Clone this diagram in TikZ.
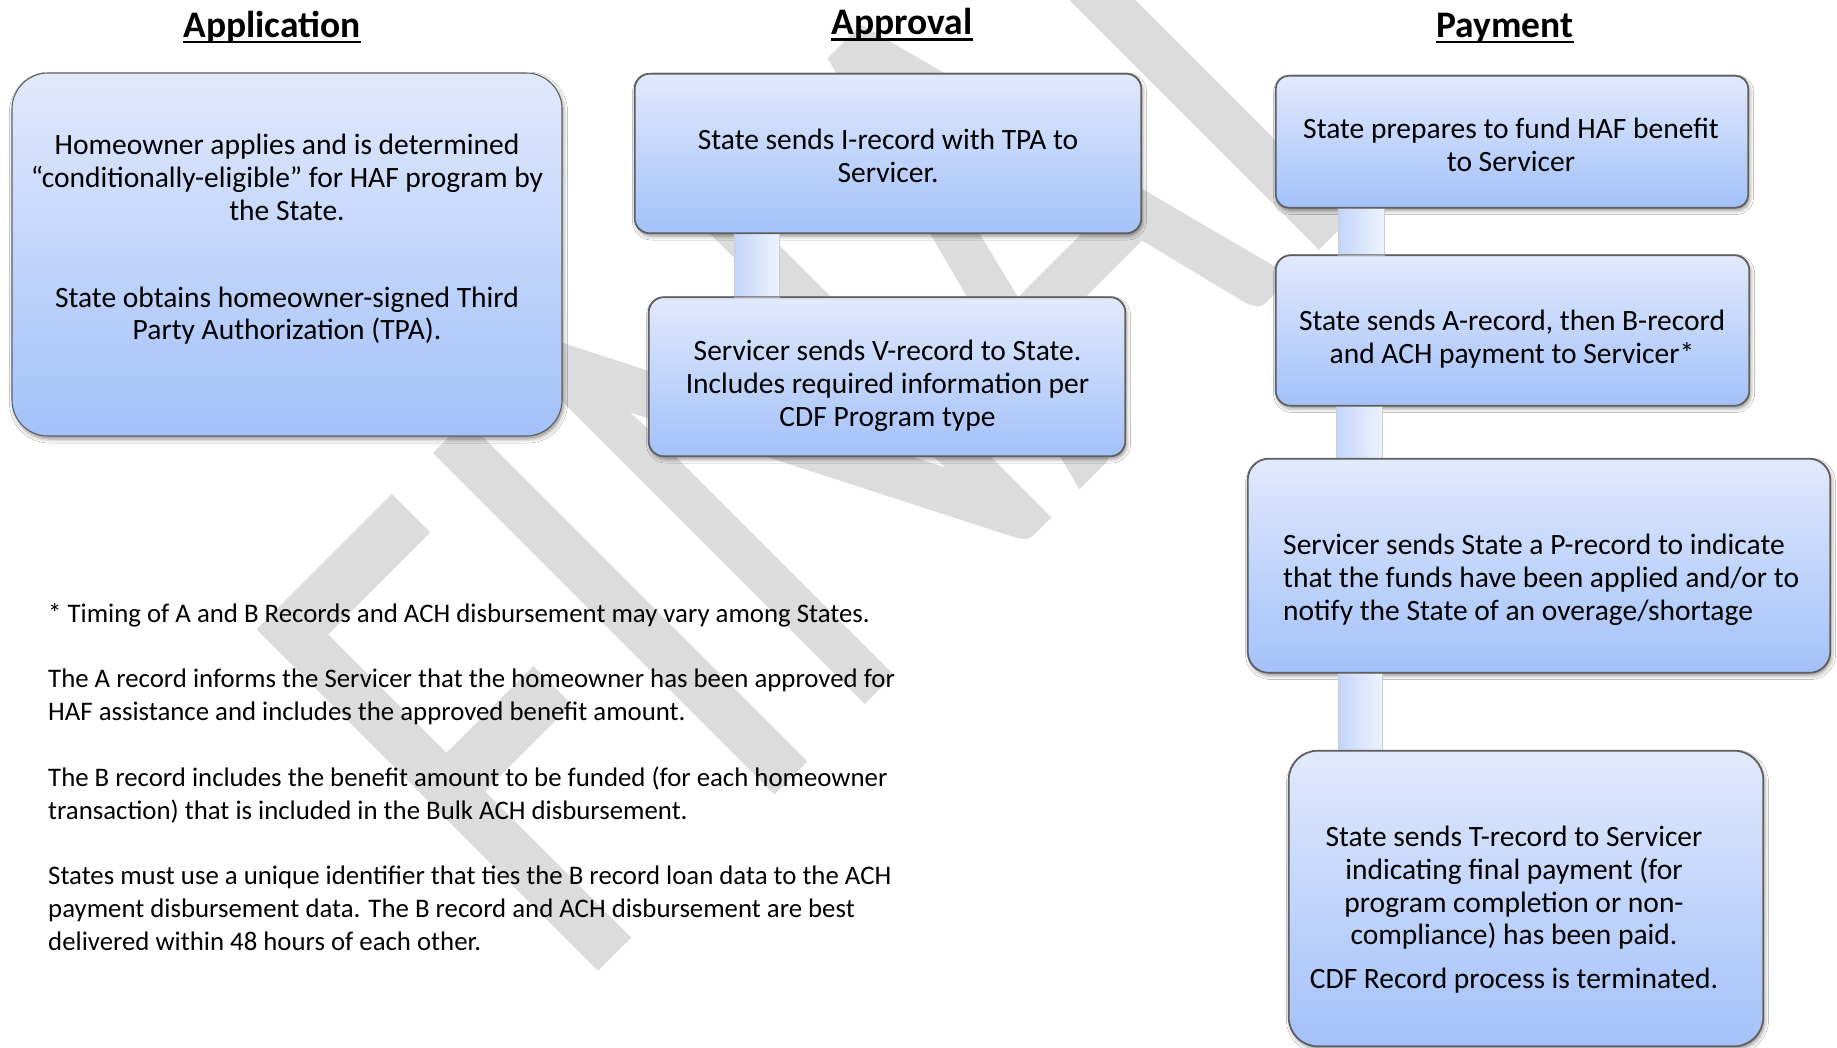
\documentclass[tikz,border=0pt]{standalone}
\usepackage{fontspec}
\setmainfont{Carlito}
\usetikzlibrary{fit,calc,shadows.blur}

\definecolor{boxtop}{RGB}{225,233,252}
\definecolor{boxbot}{RGB}{163,193,249}
\definecolor{boxline}{RGB}{96,96,96}
\definecolor{linkleft}{RGB}{196,213,250}
\definecolor{linkright}{RGB}{238,243,254}
\definecolor{linkline}{RGB}{205,205,205}
\definecolor{markgray}{RGB}{220,220,220}

\begin{document}
\begin{tikzpicture}[x=1pt,y=-1pt,
  stepbox/.style={draw=boxline, line width=1.1pt, inner sep=0pt,
    top color=boxtop, bottom color=boxbot,
    blur shadow={shadow xshift=1.5pt, shadow yshift=-3pt,
      shadow blur radius=4pt, shadow opacity=45}},
  linkbar/.style={draw=linkline, line width=0.6pt,
    left color=linkleft, right color=linkright},
  boxtext/.style={inner sep=0pt, align=center,
    font=\fontsize{29.5}{32.8}\selectfont},
  heading/.style={inner sep=0pt, anchor=base,
    font=\fontsize{37.5}{42}\selectfont\bfseries},
  notes/.style={inner sep=0pt, align=left, anchor=north west,
    font=\fontsize{26.8}{32.8}\selectfont},
  watermark/.style={inner sep=0pt, anchor=base west, rotate=45,
    text=markgray, font=\fontsize{753}{753}\selectfont}
]
\useasboundingbox (0,0) rectangle (1837,1048);
\fill[white] (0,0) rectangle (1837,1048);

% diagonal watermark behind everything
\node[watermark] (wmark) at (573,997) {\scalebox{0.7}[1]{FINAL}};

% column headings
\node[heading] (happ) at (272,37.5) {Application};
\node[heading] (happr) at (902,35) {Approval};
\node[heading] (hpay) at (1505,37.5) {Payment};
\foreach \h in {happ,happr,hpay}
  \draw[line width=2.4pt] ([yshift=-4.5pt]\h.base west) -- ([yshift=-4.5pt]\h.base east);

% step boxes (drawn as fitted rounded rectangles)
\node[stepbox, rounded corners=36pt, fit={(12,73) (562,436)}] (app) {};
\node[stepbox, rounded corners=15pt, fit={(635,74) (1141,233)}] (ap1) {};
\node[stepbox, rounded corners=15pt, fit={(649,297.5) (1125,456)}] (ap2) {};
\node[stepbox, rounded corners=13pt, fit={(1276,76) (1748,207.5)}] (p1) {};
\node[stepbox, rounded corners=15pt, fit={(1276,255.5) (1749,405.5)}] (p2) {};
\node[stepbox, rounded corners=21pt, fit={(1248,459) (1830,672.5)}] (p3) {};
\node[stepbox, rounded corners=29pt, fit={(1289,751) (1763,1046)}] (p4) {};

% connecting bars between consecutive steps
\shade[linkbar] ($(ap1.south west)+(100,0)$) rectangle ($(ap2.north west)+(131,0)$);
\shade[linkbar] ($(p1.south west)+(63,0)$) rectangle ($(p2.north west)+(109,0)$);
\shade[linkbar] ($(p2.south west)+(61,0)$) rectangle ($(p3.north west)+(135,0)$);
\shade[linkbar] ($(p3.south west)+(91,0)$) rectangle ($(p4.north west)+(94,0)$);

% redraw box outlines over the bar ends
\foreach \b/\r in {ap1/15,ap2/15,p1/13,p2/15,p3/21,p4/29}
  \draw[boxline, line width=1.1pt, rounded corners=\r pt]
    (\b.south west) rectangle (\b.north east);

% step texts
\node[boxtext] (tapp) at (287,239.5) {Homeowner applies and is determined\\
  “conditionally-eligible” for HAF program by\\ the State.\\[54pt]
  State obtains homeowner-signed Third\\ Party Authorization (TPA).};
\node[boxtext] (tap1) at (888,155.8) {State sends I-record with TPA to\\ Servicer.};
\node[boxtext] (tap2) at (887.5,385.5) {Servicer sends V-record to State.\\
  Includes required information per\\ CDF Program type};
\node[boxtext] (tp1) at (1511,145) {State prepares to fund HAF benefit\\ to Servicer};
\node[boxtext] (tp2) at (1512,339.5) {State sends A-record, then B-record\\ and ACH payment to Servicer*};
\node[boxtext, align=left, anchor=west] (tp3) at (1283,580) {Servicer sends State a P-record to indicate\\
  that the funds have been applied and/or to\\ notify the State of an overage/shortage};
\node[boxtext] (tp4) at (1514,909.5) {State sends T-record to Servicer\\
  indicating final payment (for\\ program completion or non-\\
  compliance) has been paid.\\[10.5pt] CDF Record process is terminated.};

% explanatory notes
\node[notes] (notes) at (48,603) {* Timing of A and B Records and ACH disbursement may vary among States.\\[32.8pt]
The A record informs the Servicer that the homeowner has been approved for\\
HAF assistance and includes the approved benefit amount.\\[32.8pt]
The B record includes the benefit amount to be funded (for each homeowner\\
transaction) that is included in the Bulk ACH disbursement.\\[32.8pt]
States must use a unique identifier that ties the B record loan data to the ACH\\
payment disbursement data. The B record and ACH disbursement are best\\
delivered within 48 hours of each other.};
\end{tikzpicture}
\end{document}
